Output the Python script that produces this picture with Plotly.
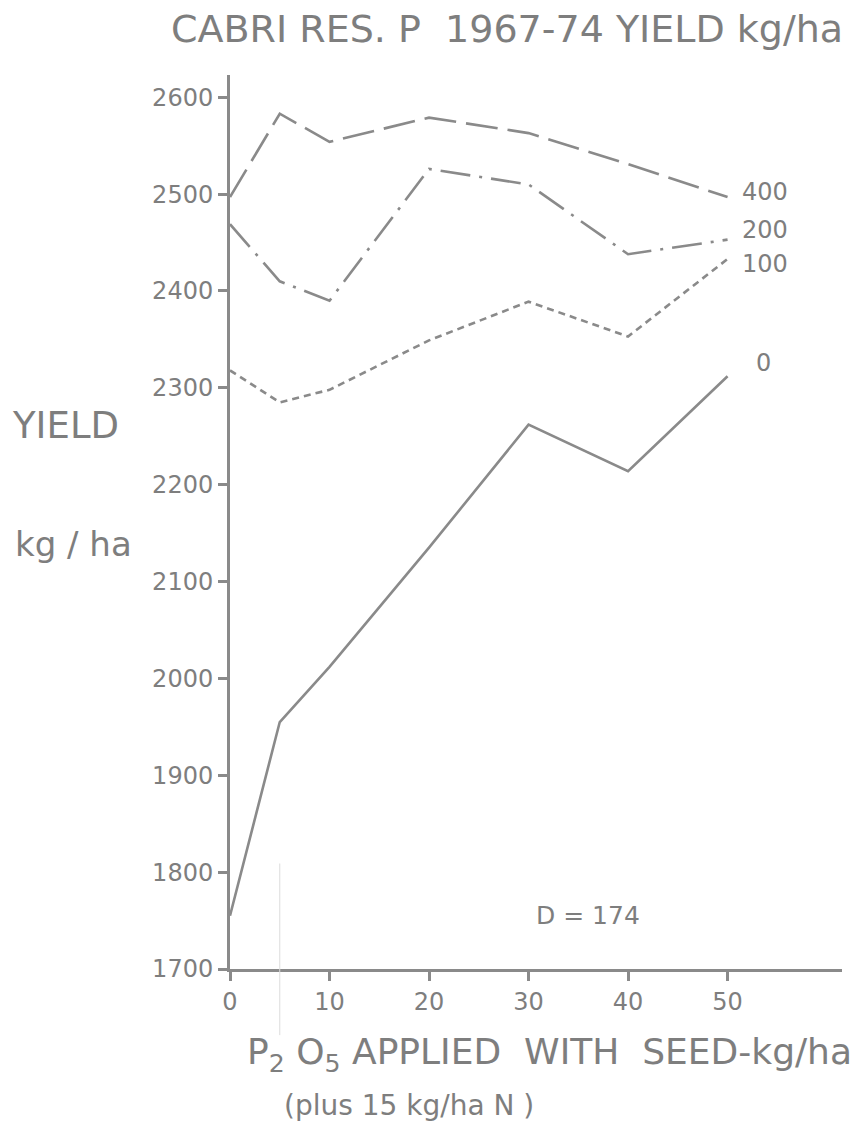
import plotly.graph_objects as go

# ---- data ----
p2o5 = [0, 5, 10, 20, 30, 40, 50]
series_names = ["0", "100", "200", "400"]
yield_0 = [1755, 1955, 2012, 2135, 2262, 2214, 2312]
yield_100 = [2318, 2285, 2298, 2349, 2389, 2353, 2433]
yield_200 = [2469, 2410, 2390, 2526, 2510, 2438, 2453]
yield_400 = [2497, 2583, 2554, 2579, 2563, 2531, 2497]
y_ticks = [1700, 1800, 1900, 2000, 2100, 2200, 2300, 2400, 2500, 2600]
x_ticks = [0, 10, 20, 30, 40, 50]
lsd_text = "D = 174"

# ---- styles ----
INK = "#7e7e7e"
LINE = "#8a8a8a"
FONT = "DejaVu Sans"
dashes = {"0": "solid", "100": "7px,5px", "200": "30px,9px,3px,9px", "400": "32px,10px"}
label_shift = {"0": (26, 13), "100": (12, -5), "200": (12, 10), "400": (12, 5)}

fig = go.Figure()
all_series = {"0": yield_0, "100": yield_100, "200": yield_200, "400": yield_400}
for name in series_names:
    ys = all_series[name]
    fig.add_trace(go.Scatter(
        x=p2o5, y=ys, mode="lines", name=name,
        line=dict(color=LINE, width=2.6, dash=dashes[name]),
        showlegend=False, cliponaxis=False,
    ))
    dx, dy = label_shift[name]
    fig.add_annotation(
        x=p2o5[-1], y=ys[-1], text=name, showarrow=False,
        xanchor="left", yanchor="middle", xshift=dx, yshift=dy,
        font=dict(family=FONT, size=24, color=INK),
    )

# faint vertical mark at x = 5
fig.add_shape(type="line", xref="x", yref="paper", x0=5, x1=5, y0=-0.074, y1=0.118,
              line=dict(color="#dcdcdc", width=1))

fig.add_annotation(x=36, y=1755, text=lsd_text, showarrow=False, xanchor="center",
                   font=dict(family=FONT, size=25, color=INK))

# titles
fig.add_annotation(xref="paper", yref="paper", x=0.452, y=1.0515, text="CABRI RES. P  1967-74 YIELD kg/ha",
                   showarrow=False, xanchor="center", yanchor="middle",
                   font=dict(family=FONT, size=38, color=INK))
fig.add_annotation(xref="paper", yref="paper", x=-0.268, y=0.608, text="YIELD",
                   showarrow=False, xanchor="center", yanchor="middle",
                   font=dict(family=FONT, size=37, color=INK))
fig.add_annotation(xref="paper", yref="paper", x=-0.256, y=0.475, text="kg / ha",
                   showarrow=False, xanchor="center", yanchor="middle",
                   font=dict(family=FONT, size=34, color=INK))
fig.add_annotation(xref="paper", yref="paper", x=0.522, y=-0.096,
                   text="P<sub>2</sub> O<sub>5</sub> APPLIED  WITH  SEED-kg/ha",
                   showarrow=False, xanchor="center", yanchor="middle",
                   font=dict(family=FONT, size=36, color=INK))
fig.add_annotation(xref="paper", yref="paper", x=0.292, y=-0.153,
                   text="(plus 15 kg/ha N )",
                   showarrow=False, xanchor="center", yanchor="middle",
                   font=dict(family=FONT, size=28, color=INK))

fig.update_layout(
    width=858, height=1126,
    margin=dict(l=222, r=24, t=67, b=165),
    paper_bgcolor="white", plot_bgcolor="white",
    xaxis=dict(range=[0, 61.5], tickvals=x_ticks, ticks="outside", ticklen=9, tickwidth=2.5,
               tickcolor=LINE, showline=True, linecolor=LINE, linewidth=3, showgrid=False,
               zeroline=False, tickfont=dict(family=FONT, size=24, color=INK)),
    yaxis=dict(range=[1700, 2623], tickvals=y_ticks, ticks="outside", ticklen=9, tickwidth=2.5,
               tickcolor=LINE, showline=True, linecolor=LINE, linewidth=3, showgrid=False,
               zeroline=False, tickfont=dict(family=FONT, size=24, color=INK)),
)

fig.write_html("out.html")
